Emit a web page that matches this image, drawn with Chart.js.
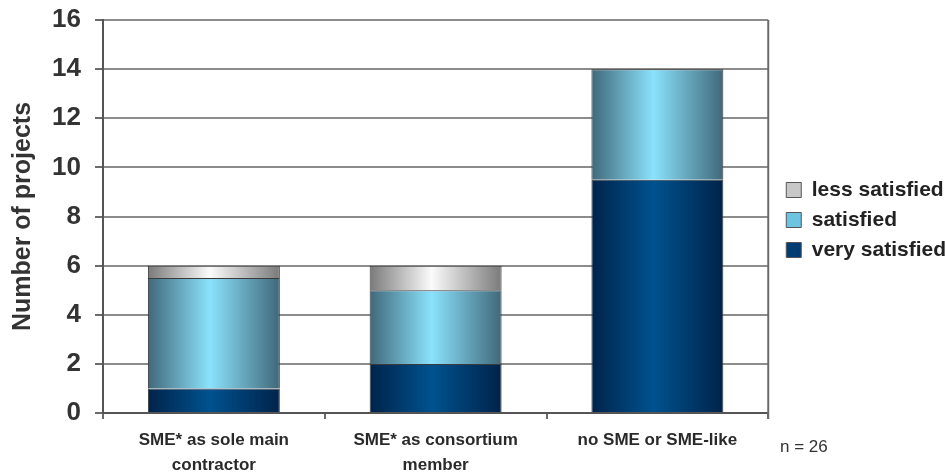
<!DOCTYPE html>
<html>
<head>
<meta charset="utf-8">
<script src="https://cdn.jsdelivr.net/npm/chart.js@4"></script>
<style>
  html, body { margin: 0; padding: 0; background: #fff; }
  #wrap { width: 945px; height: 472px; }
</style>
</head>
<body>
<div id="wrap"><canvas id="myChart" width="945" height="472"></canvas></div>
<script>
// chart values
const categories = [
  ['SME* as sole main', 'contractor'],
  ['SME* as consortium', 'member'],
  'no SME or SME-like'
];
const verySatisfied = [1, 2, 9.5];
const satisfied = [4.5, 3, 4.5];
const lessSatisfied = [0.5, 1, 0];
const yTicks = [0, 2, 4, 6, 8, 10, 12, 14, 16];
const sampleNote = 'n = 26';

const BAR_PCT = 0.595;
const FONT = '"Liberation Sans", Arial, sans-serif';

// horizontal "cylinder" shading for each bar
function barFill(edge, light) {
  return function (ctx) {
    const chart = ctx.chart;
    const xs = chart.scales && chart.scales.x;
    if (!xs || ctx.type !== 'data' || !chart.chartArea) return light;
    const c = xs.getPixelForValue(ctx.dataIndex);
    const hw = xs.width / categories.length * BAR_PCT / 2;
    const g = chart.ctx.createLinearGradient(c - hw, 0, c + hw, 0);
    g.addColorStop(0, edge);
    g.addColorStop(0.47, light);
    g.addColorStop(1, edge);
    return g;
  };
}

const swatch = {
  'less satisfied': '#c8c8c8',
  'satisfied': '#6cc4e0',
  'very satisfied': '#003d72'
};

// right border, "n = 26" note, legend nudge
const extras = {
  id: 'extras',
  afterLayout(chart) {
    const lg = chart.legend;
    if (lg) {
      lg.left += 9; lg.right += 9;
      lg.top -= 26; lg.bottom -= 26;
    }
  },
  afterDraw(chart) {
    const { ctx, chartArea } = chart;
    ctx.save();
    ctx.strokeStyle = '#6a6a6a';
    ctx.lineWidth = 2;
    ctx.beginPath();
    ctx.moveTo(chartArea.right, chartArea.top);
    ctx.lineTo(chartArea.right, chartArea.bottom + 6);
    ctx.stroke();
    ctx.fillStyle = '#333';
    ctx.font = '17px ' + FONT;
    ctx.textBaseline = 'alphabetic';
    ctx.fillText(sampleNote, 780, 452);
    ctx.restore();
  }
};

document.addEventListener('DOMContentLoaded', function () {
  const ctx = document.getElementById('myChart').getContext('2d');
  new Chart(ctx, {
    type: 'bar',
    data: {
      labels: categories,
      datasets: [
        {
          label: 'very satisfied',
          data: verySatisfied,
          backgroundColor: barFill('#00234a', '#00528f'),
          borderColor: '#3a3a3a',
          borderWidth: 1
        },
        {
          label: 'satisfied',
          data: satisfied,
          backgroundColor: barFill('#40687a', '#8ae2fc'),
          borderColor: '#3a3a3a',
          borderWidth: 1
        },
        {
          label: 'less satisfied',
          data: lessSatisfied,
          backgroundColor: barFill('#7a7a7a', '#fbfbfb'),
          borderColor: '#3a3a3a',
          borderWidth: 1
        }
      ]
    },
    options: {
      responsive: false,
      animation: false,
      layout: { padding: { top: 20, left: 0, right: -2, bottom: 0 } },
      datasets: {
        bar: { barPercentage: BAR_PCT, categoryPercentage: 1 }
      },
      scales: {
        x: {
          stacked: true,
          afterFit(scale) { scale.height = 59; },
          grid: {
            offset: true,
            drawOnChartArea: false,
            drawTicks: true,
            tickLength: 6,
            color: '#6a6a6a',
            lineWidth: 2
          },
          border: { color: '#555', width: 2 },
          ticks: {
            color: '#2a2a2a',
            padding: 9,
            maxRotation: 0,
            autoSkip: false,
            font: { family: FONT, size: 17, weight: 'bold', lineHeight: 1.45 }
          }
        },
        y: {
          stacked: true,
          min: 0,
          max: 16,
          afterFit(scale) {
            scale.width = 103;
            scale.paddingTop = 0;
            scale.paddingBottom = 0;
          },
          afterBuildTicks(scale) { scale.ticks = yTicks.map(v => ({ value: v })); },
          grid: {
            color: '#8c8c8c',
            lineWidth: 2,
            tickLength: 8,
            tickColor: '#6a6a6a'
          },
          border: { color: '#555', width: 2 },
          ticks: {
            color: '#333',
            padding: 14,
            font: { family: FONT, size: 26, weight: 'bold' }
          },
          title: {
            display: true,
            text: 'Number of projects',
            color: '#333',
            padding: { top: 8, bottom: 0 },
            font: { family: FONT, size: 25, weight: 'bold', lineHeight: 1.2 }
          }
        }
      },
      plugins: {
        tooltip: { enabled: false },
        legend: {
          position: 'right',
          reverse: true,
          labels: {
            color: '#222',
            boxWidth: 15,
            boxHeight: 15,
            padding: 9,
            font: { family: FONT, size: 21, weight: 'bold', lineHeight: 1.0 },
            generateLabels(chart) {
              return chart.data.datasets.map((ds, i) => ({
                text: ds.label,
                fillStyle: swatch[ds.label],
                strokeStyle: '#555',
                lineWidth: 1,
                fontColor: '#222',
                datasetIndex: i,
                hidden: false
              }));
            }
          }
        }
      }
    },
    plugins: [extras]
  });
});
</script>
</body>
</html>
